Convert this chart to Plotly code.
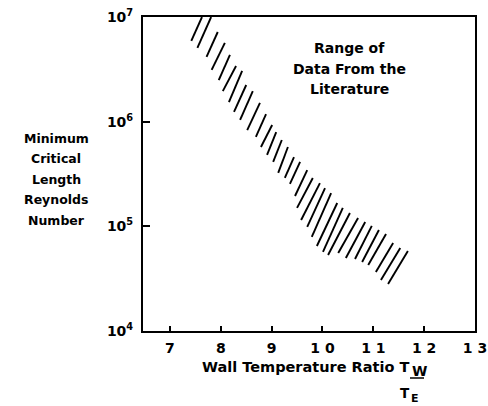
import plotly.graph_objects as go

# Hatch strokes of the "range of data" band: each stroke from (x0, y0) to (x1, y1)
seg_x0 = [7.42, 7.54, 7.72, 7.82, 7.96, 8.04, 8.16, 8.26, 8.38, 8.52, 8.69, 8.79, 8.91, 9.03, 9.13, 9.26, 9.36,
          9.46, 9.50, 9.58, 9.70, 9.79, 9.89, 10.01, 10.11, 10.31, 10.46, 10.64, 10.78, 10.90, 11.05, 11.15, 11.29]
seg_y0 = [5.90e6, 5.06e6, 4.15e6, 3.12e6, 2.50e6, 1.96e6, 1.54e6, 1.24e6, 1.04e6, 8.32e5, 7.14e5, 5.73e5, 4.81e5,
          4.12e5, 3.24e5, 2.90e5, 2.54e5, 1.95e5, 1.50e5, 1.15e5, 9.86e4, 7.91e4, 6.49e4, 5.69e4, 5.32e4, 5.56e4,
          4.99e4, 4.88e4, 4.56e4, 4.27e4, 3.66e4, 3.07e4, 2.81e4]
seg_x1 = [7.63, 7.81, 7.94, 8.08, 8.18, 8.30, 8.42, 8.50, 8.63, 8.77, 8.89, 9.01, 9.09, 9.20, 9.32, 9.44, 9.56,
          9.70, 9.81, 9.95, 10.05, 10.17, 10.29, 10.40, 10.54, 10.70, 10.84, 10.97, 11.11, 11.25, 11.39, 11.53, 11.68]
seg_y1 = [1.0e7, 1.0e7, 7.19e6, 5.65e6, 4.34e6, 3.40e6, 3.05e6, 2.24e6, 1.96e6, 1.51e6, 1.18e6, 9.29e5, 7.96e5,
          6.68e5, 5.73e5, 4.59e5, 4.12e5, 3.45e5, 2.90e5, 2.59e5, 2.32e5, 2.08e5, 1.67e5, 1.50e5, 1.34e5, 1.20e5,
          1.10e5, 1.01e5, 9.22e4, 8.45e4, 6.93e4, 6.21e4, 5.81e4]

x_ticks = [7, 8, 9, 10, 11, 12, 13]
x_ticktext = ["7", "8", "9", "1 0", "1 1", "1 2", "1 3"]
y_ticks = [1e4, 1e5, 1e6, 1e7]
y_ticktext = ["10<sup>4</sup>", "10<sup>5</sup>", "10<sup>6</sup>", "10<sup>7</sup>"]

FONT = "DejaVu Sans, sans-serif"

xs, ys = [], []
for a, b, c, d in zip(seg_x0, seg_y0, seg_x1, seg_y1):
    xs += [a, c, None]
    ys += [b, d, None]

fig = go.Figure()
fig.add_trace(go.Scatter(x=xs, y=ys, mode="lines", line=dict(color="black", width=1.9),
                         hoverinfo="skip", showlegend=False, cliponaxis=True))

fig.update_layout(
    width=488, height=406,
    margin=dict(l=143, r=13, t=17, b=75, autoexpand=False),
    paper_bgcolor="white", plot_bgcolor="white",
    showlegend=False,
    font=dict(family=FONT, color="black", size=14),
    xaxis=dict(range=[6.47, 13], tickvals=x_ticks, ticktext=x_ticktext, ticks="inside", ticklen=5,
               tickcolor="black", tickwidth=1.5, showline=True, mirror=True, linecolor="black", linewidth=2,
               showgrid=False, zeroline=False, ticklabelstandoff=3, automargin=False,
               ticklabeloverflow="allow",
               tickfont=dict(family=FONT, size=14, color="black", weight="bold")),
    yaxis=dict(type="log", range=[4, 7], tickvals=y_ticks, ticktext=y_ticktext, ticks="inside", ticklen=7,
               tickcolor="black", tickwidth=1.5, showline=True, mirror=True, linecolor="black", linewidth=2,
               showgrid=False, zeroline=False, ticklabelstandoff=5, automargin=False,
               ticklabeloverflow="allow",
               tickfont=dict(family=FONT, size=14, color="black", weight="bold")),
)

def txt(s, x, y, size=13, anchor="center"):
    fig.add_annotation(text="<b>" + s + "</b>", x=x, y=y, xref="paper", yref="paper",
                       xanchor=anchor, yanchor="middle", showarrow=False,
                       font=dict(family=FONT, size=size, color="black"))

# plot-area edges in page pixels
L, R, T, B = 143, 475, 17, 331

def px(xp):
    return (xp - L) / (R - L)

def py(yp):
    return (B - yp) / (B - T)

# left label
for i, s in enumerate(["Minimum", "Critical", "Length", "Reynolds", "Number"]):
    txt(s, px(56), py(138 + i * 20.5), size=12.5)

# in-plot label
for i, s in enumerate(["Range of", "Data From the", "Literature"]):
    txt(s, px(349), py(48 + i * 20.5), size=14)

# x title
txt("Wall Temperature Ratio T", px(411), py(367), size=14.5, anchor="right")
txt("W", px(410), py(371), size=14, anchor="left")
txt("T", px(405), py(393), size=13.5, anchor="center")
txt("E", px(415), py(398), size=11, anchor="center")
fig.add_shape(type="line", xref="paper", yref="paper", x0=px(410), x1=px(424), y0=py(378), y1=py(378),
              line=dict(color="black", width=1.5))

fig.write_html("out.html", config={"displayModeBar": False},
               post_script="document.body.style.margin='0';document.body.style.overflow='hidden';")
